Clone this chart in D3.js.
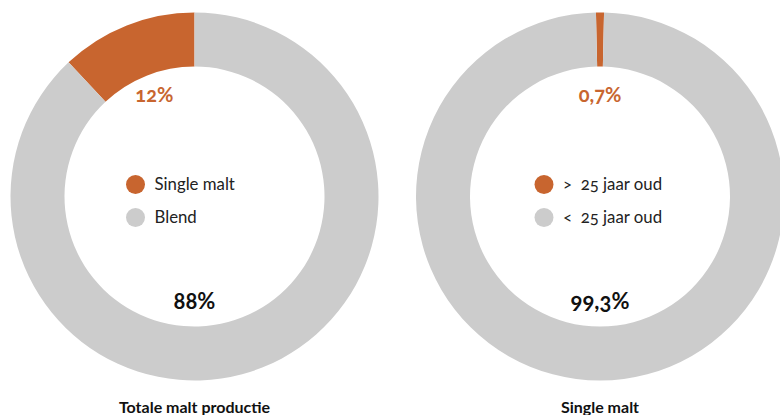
<!DOCTYPE html>
<html>
<head>
<meta charset="utf-8">
<script src="https://cdn.jsdelivr.net/npm/d3@7"></script>
<style>
  body { margin: 0; background: #fff; }
  svg { display: block; font-family: Lato, "Open Sans", sans-serif; font-feature-settings: "onum"; }
</style>
</head>
<body>
<script>
// données des deux anneaux
const titres = ["Totale malt productie", "Single malt"];
const categoriesGauche = ["Single malt", "Blend"];
const categoriesDroite = [">  25 jaar oud", "<  25 jaar oud"];
const valeursGauche = [12, 88];
const valeursDroite = [0.7, 99.3];
const etiquettesGauche = ["12%", "88%"];
const etiquettesDroite = ["0,7%", "99,3%"];
const couleurs = ["#c8652f", "#cccccc"];

const largeur = 780, hauteur = 415;
const rayonExt = 184, rayonInt = 130;

const canevas = d3.select("body")
  .append("svg")
  .attr("width", largeur)
  .attr("height", hauteur);

const couleur = d3.scaleOrdinal().domain([0, 1]).range(couleurs);

const anneaux = [
  { cx: 194.5, cy: 196.5, cats: categoriesGauche, vals: valeursGauche, etiq: etiquettesGauche, titre: titres[0], centre: false },
  { cx: 600, cy: 196.5, cats: categoriesDroite, vals: valeursDroite, etiq: etiquettesDroite, titre: titres[1], centre: true }
];

const arc = d3.arc().innerRadius(rayonInt).outerRadius(rayonExt);

anneaux.forEach(a => {
  const g = canevas.append("g").attr("transform", `translate(${a.cx},${a.cy})`);
  const total = d3.sum(a.vals);
  // la petite part se termine au sommet (ou y est centrée)
  const decal = a.centre ? (a.vals[0] / total) * Math.PI : 0;
  const camembert = d3.pie()
    .sort(null)
    .value(d => d.v)
    .startAngle(-2 * Math.PI * a.vals[0] / total + decal)
    .endAngle(2 * Math.PI - 2 * Math.PI * a.vals[0] / total + decal);

  const donnees = a.vals.map((v, i) => ({ v, i }));
  const parts = camembert(donnees);

  g.selectAll("path")
    .data(parts)
    .enter()
    .append("path")
    .attr("d", arc)
    .attr("fill", d => couleur(d.data.i));

  // étiquette de la petite part : sur une ligne fixe, dans la direction de la part
  const p = parts[0];
  const angle = (p.startAngle + p.endAngle) / 2;
  const yEtiq = -101.5;
  g.append("text")
    .attr("x", -yEtiq * Math.tan(angle))
    .attr("y", yEtiq)
    .attr("dy", "0.35em")
    .attr("text-anchor", "middle")
    .attr("font-size", 20)
    .attr("font-weight", 700)
    .attr("fill", couleurs[0])
    .text(a.etiq[0]);

  // grande part : en bas du trou
  g.append("text")
    .attr("x", 0)
    .attr("y", 112)
    .attr("text-anchor", "middle")
    .attr("font-size", 22)
    .attr("font-weight", 700)
    .attr("fill", "#111")
    .text(a.etiq[1]);

  // légende
  const leg = g.selectAll(".leg")
    .data(a.cats)
    .enter()
    .append("g")
    .attr("class", "leg")
    .attr("transform", (d, i) => `translate(${a.centre ? -56 : -59},${-12 + i * 33})`);
  leg.append("circle")
    .attr("r", 9.5)
    .attr("fill", (d, i) => couleur(i));
  leg.append("text")
    .attr("x", 19)
    .attr("dy", "0.35em")
    .attr("font-size", 16.8)
    .attr("fill", "#222")
    .style("white-space", "pre")
    .text(d => d);

  // titre sous l'anneau
  canevas.append("text")
    .attr("x", a.cx)
    .attr("y", 413)
    .attr("text-anchor", "middle")
    .attr("font-size", 16)
    .attr("font-weight", 700)
    .attr("fill", "#111")
    .text(a.titre);
});
</script>
</body>
</html>
